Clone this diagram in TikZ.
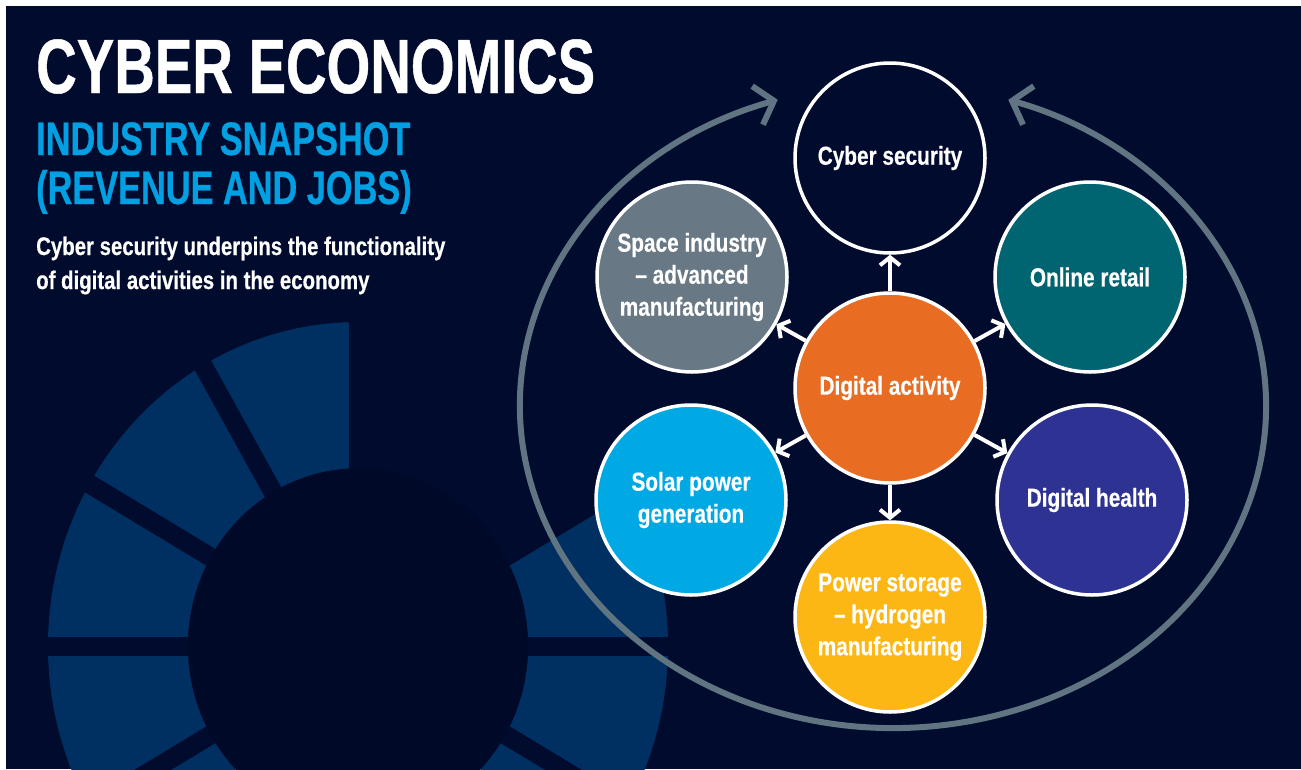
\documentclass[tikz,border=0pt]{standalone}
\usepackage{fontspec}
\newfontfamily\titlefont{Liberation Sans}[FakeStretch=0.73,FakeBold=0.6]
\newfontfamily\condfont{Liberation Sans}[FakeStretch=0.8,FakeBold=0.4]
\usetikzlibrary{arrows.meta}

\definecolor{navybg}{RGB}{0,11,46}
\definecolor{holebg}{RGB}{0,9,39}
\definecolor{ringblue}{RGB}{0,48,98}
\definecolor{arcgray}{RGB}{96,116,130}
\definecolor{titleblue}{RGB}{0,160,227}
\definecolor{spacegray}{RGB}{104,120,133}
\definecolor{retailteal}{RGB}{0,101,112}
\definecolor{healthblue}{RGB}{46,50,146}
\definecolor{storageyellow}{RGB}{252,183,21}
\definecolor{solarblue}{RGB}{0,169,227}
\definecolor{activityorange}{RGB}{233,108,35}

\begin{document}
\begin{tikzpicture}[x=1pt,y=-1pt,
  bubble/.style={circle,draw=white,line width=3.5pt,minimum size=190pt,
    inner sep=0pt,text=white,align=center,
    font=\condfont\bfseries\fontsize{26}{32}\selectfont},
  spoke/.style={draw=white,line width=4pt,
    -{Straight Barb[length=8pt,width=20pt]}},
  cyclearc/.style={draw=arcgray,line width=6pt,
    {Straight Barb[length=17pt,width=40pt]}-{Straight Barb[length=17pt,width=40pt]}},
  heading/.style={anchor=base west,inner sep=0pt,text=white}
]
  \useasboundingbox (0,0) rectangle (1301,769);
  \fill[white] (0,0) rectangle (1301,769);
  \fill[navybg] (6,6) rectangle (1301,769);

  % segmented ring in the background
  \begin{scope}
    \clip (6,6) rectangle (1301,769);
    \begin{scope}[shift={(358,646)},yscale=1.045]
      \fill[ringblue] (90:310pt) arc[start angle=90,end angle=390,radius=310pt]
        -- (30:170pt) arc[start angle=30,end angle=-270,radius=170pt] -- cycle;
      \foreach \a in {0,30,...,330}
        \draw[navybg,line width=19pt] (\a:160pt) -- (\a:330pt);
      \fill[holebg] (0,0) circle[radius=170pt];
    \end{scope}
  \end{scope}

  % headings
  \node[heading,font=\titlefont\bfseries\fontsize{77}{80}\selectfont]
    (title) at (36,93) {CYBER ECONOMICS};
  \node[heading,text=titleblue,font=\titlefont\bfseries\fontsize{47}{50}\selectfont]
    (sub1) at (36,155) {INDUSTRY SNAPSHOT};
  \node[heading,text=titleblue,font=\titlefont\bfseries\fontsize{47}{50}\selectfont]
    (sub2) at (36,204) {(REVENUE AND JOBS)};
  \node[heading,font=\condfont\bfseries\fontsize{25.5}{30}\selectfont]
    (blurb1) at (36,255) {Cyber security underpins the functionality};
  \node[heading,font=\condfont\bfseries\fontsize{25.5}{30}\selectfont]
    (blurb2) at (36,289) {of digital activities in the economy};

  % outer cycle
  \draw[cyclearc] (893,406) ++(108:373pt and 322pt)
    arc[start angle=108,end angle=432,x radius=373pt,y radius=322pt];

  % circles
  \node[bubble,fill=activityorange] (act) at (890,388) {Digital activity};
  \node[bubble,fill=navybg] (sec) at (890,158) {Cyber security};
  \node[bubble,fill=retailteal] (retail) at (1090,277) {Online retail};
  \node[bubble,fill=healthblue] (health) at (1092,500) {Digital health};
  \node[bubble,fill=storageyellow] (storage) at (890,617)
    {Power storage\\\textendash{} hydrogen\\manufacturing};
  \node[bubble,fill=solarblue] (solar) at (691,500) {Solar power\\generation};
  \node[bubble,fill=spacegray] (space) at (692,277)
    {Space industry\\\textendash{} advanced\\manufacturing};

  \draw[spoke] (act) -- (sec);
  \draw[spoke] (act) -- (retail);
  \draw[spoke] (act) -- (health);
  \draw[spoke] (act) -- (storage);
  \draw[spoke] (act) -- (solar);
  \draw[spoke] (act) -- (space);
\end{tikzpicture}
\end{document}
